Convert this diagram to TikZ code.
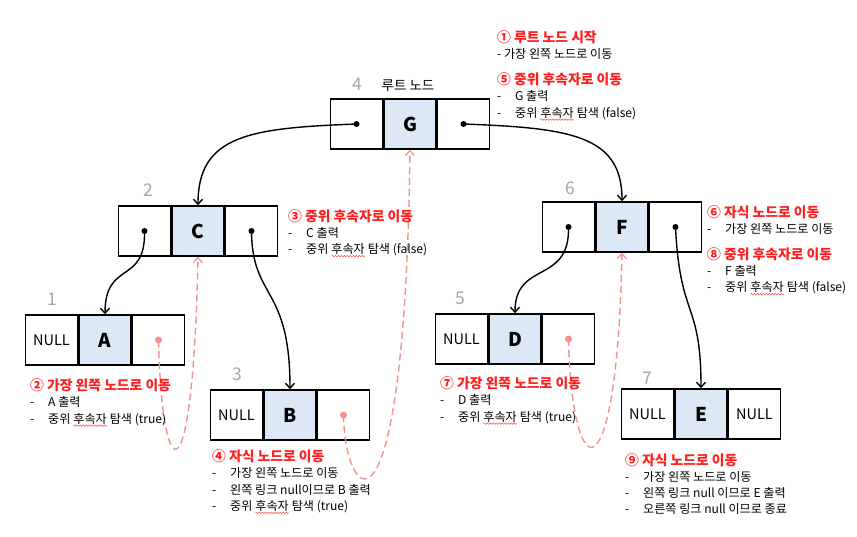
\documentclass[tikz,border=0pt]{standalone}
\usepackage{fontspec}
\setmainfont{Noto Sans CJK KR}
\usetikzlibrary{positioning, arrows.meta, decorations.pathmorphing}

\definecolor{keyblue}{HTML}{DCE8F5}
\definecolor{stepred}{HTML}{FF1F1F}
\definecolor{threadred}{HTML}{F4918E}
\definecolor{numgray}{HTML}{A6A6A6}

\newcommand{\heading}[1]{{\color{stepred}\bfseries\fontsize{13.8}{16}\selectfont #1}}
\newcommand{\bul}[1]{\makebox[18pt][l]{-}#1}
\newcommand{\spell}[1]{\tikz[baseline=(sw.base)]{\node[inner sep=0pt, outer sep=0pt, anchor=base] (sw) {#1};
  \draw[red!70, line width=0.5pt, decorate, decoration={snake, amplitude=0.8pt, segment length=3pt}] ([yshift=-2.5pt]sw.base west) -- ([yshift=-2.5pt]sw.base east);}}

\begin{document}
\begin{tikzpicture}[x=1pt, y=-1pt,
  cell/.style={draw, line width=1.5pt, minimum width=52pt, minimum height=50pt, inner sep=0pt, font=\fontsize{14.5}{14.5}\selectfont},
  key/.style={cell, fill=keyblue, font=\bfseries\fontsize{19}{19}\selectfont},
  num/.style={text=numgray, font=\fontsize{17.5}{17.5}\selectfont},
  note/.style={anchor=north west, inner sep=0pt, align=left, font=\fontsize{12.1}{16.3}\selectfont},
  ptr/.style={line width=1.4pt, -{Straight Barb[length=5pt,width=9pt,line width=1.4pt]}},
  thread/.style={threadred, line width=1.4pt, dash pattern=on 7pt off 4pt, -{Straight Barb[length=5pt,width=9pt,line width=1.2pt]}}]
\useasboundingbox (0,0) rectangle (857,536);

% root G
\node[key] (g) at (410,124) {G};
\node[cell, left=0pt of g] (gl) {};
\node[cell, right=0pt of g] (gr) {};
\node[num] (n4) at (357,84) {4};
\node[font=\fontsize{13.5}{13.5}\selectfont] (root) at (408,86) {루트 노드};

% C, F
\node[key] (c) at (198,231) {C};
\node[cell, left=0pt of c] (cl) {};
\node[cell, right=0pt of c] (cr) {};
\node[num] (n2) at (148,190) {2};

\node[key] (f) at (622,227) {F};
\node[cell, left=0pt of f] (fl) {};
\node[cell, right=0pt of f] (fr) {};
\node[num] (n6) at (570,188) {6};

% A, B, D, E
\node[key] (a) at (105,340) {A};
\node[cell, left=0pt of a] (al) {NULL};
\node[cell, right=0pt of a] (ar) {};
\node[num] (n1) at (52,299) {1};

\node[key] (b) at (290,415) {B};
\node[cell, left=0pt of b] (bl) {NULL};
\node[cell, right=0pt of b] (br) {};
\node[num] (n3) at (237,374) {3};

\node[key] (d) at (515,339) {D};
\node[cell, left=0pt of d] (dl) {NULL};
\node[cell, right=0pt of d] (dr) {};
\node[num] (n5) at (460,298) {5};

\node[key] (e) at (701,414) {E};
\node[cell, left=0pt of e] (el) {NULL};
\node[cell, right=0pt of e] (er) {NULL};
\node[num] (n7) at (647,378) {7};

% child links
\foreach \p in {gl,gr,cl,cr,fl,fr}
  \fill (\p.center) circle (3pt);
\draw[ptr] (gl.center) .. controls (250,128) and (198,135) .. (c.north);
\draw[ptr] (gr.center) .. controls (570,128) and (622,135) .. (f.north);
\draw[ptr] (cl.center) .. controls (146,285) and (105,260) .. (a.north);
\draw[ptr] (cr.center) .. controls (252,300) and (290,285) .. (b.north);
\draw[ptr] (fl.center) .. controls (570,285) and (515,260) .. (d.north);
\draw[ptr] (fr.center) .. controls (680,320) and (701,300) .. (e.north);

% threads
\foreach \p in {ar,br,dr}
  \fill[threadred] (\p.center) circle (3.5pt);
\draw[thread] (ar.center) .. controls (162,490) and (193,506) .. (c.south);
\draw[thread] (br.center) .. controls (345,505) and (405,560) .. (g.south);
\draw[thread] (dr.center) .. controls (572,490) and (617,502) .. (f.south);

% steps
\node[note] (s1) at (497,30) {\heading{① 루트 노드 시작}\\- 가장 왼쪽 노드로 이동};
\node[note] (s5) at (497,72.5) {\heading{⑤ 중위 후속자로 이동}\\\bul{G 출력}\\\bul{중위 \spell{후속자} 탐색 (false)}};
\node[note] (s3) at (288,209) {\heading{③ 중위 후속자로 이동}\\\bul{C 출력}\\\bul{중위 \spell{후속자} 탐색 (false)}};
\node[note] (s6) at (707,205) {\heading{⑥ 자식 노드로 이동}\\\bul{가장 왼쪽 노드로 이동}};
\node[note] (s8) at (707,247) {\heading{⑧ 중위 후속자로 이동}\\\bul{F 출력}\\\bul{중위 \spell{후속자} 탐색 (false)}};
\node[note] (s2) at (30,378.5) {\heading{② 가장 왼쪽 노드로 이동}\\\bul{A 출력}\\\bul{중위 \spell{후속자} 탐색 (true)}};
\node[note] (s4) at (212,449.5) {\heading{④ 자식 노드로 이동}\\\bul{가장 왼쪽 노드로 이동}\\\bul{왼쪽 링크 null이므로 B 출력}\\\bul{중위 \spell{후속자} 탐색 (true)}};
\node[note] (s7) at (440,376.5) {\heading{⑦ 가장 왼쪽 노드로 이동}\\\bul{D 출력}\\\bul{중위 \spell{후속자} 탐색 (true)}};
\node[note] (s9) at (625,453) {\heading{⑨ 자식 노드로 이동}\\\bul{가장 왼쪽 노드로 이동}\\\bul{왼쪽 링크 null 이므로 E 출력}\\\bul{오른쪽 링크 null 이므로 종료}};
\end{tikzpicture}
\end{document}
